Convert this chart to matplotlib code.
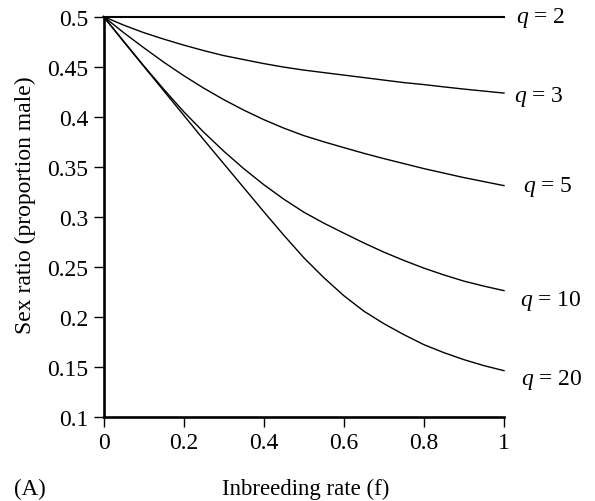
import matplotlib
matplotlib.use('Agg')
import matplotlib.pyplot as plt

plt.rcParams['font.family'] = ['Liberation Serif', 'DejaVu Serif']
plt.rcParams['mathtext.fontset'] = 'custom'
plt.rcParams['mathtext.it'] = 'Liberation Serif:italic'
plt.rcParams['mathtext.rm'] = 'Liberation Serif'

# values
f = [0.0, 0.05, 0.1, 0.15, 0.2, 0.25, 0.3, 0.35, 0.4, 0.45, 0.5,
     0.55, 0.6, 0.65, 0.7, 0.75, 0.8, 0.85, 0.9, 0.95, 1.0]
q2 = [0.5] * 21
q3 = [0.5, 0.4915, 0.484, 0.4775, 0.4715, 0.466, 0.461, 0.457, 0.453, 0.4495, 0.4465,
      0.444, 0.4415, 0.439, 0.4365, 0.434, 0.432, 0.4297, 0.4275, 0.4255, 0.4235]
q5 = [0.5, 0.484, 0.469, 0.4545, 0.441, 0.4285, 0.417, 0.4065, 0.397, 0.3885, 0.381,
      0.3748, 0.369, 0.3633, 0.358, 0.353, 0.348, 0.3435, 0.339, 0.335, 0.331]
q10 = [0.5, 0.4755, 0.451, 0.4275, 0.405, 0.3845, 0.3655, 0.348, 0.332, 0.3175, 0.3045,
       0.2935, 0.2835, 0.2737, 0.2645, 0.2562, 0.2485, 0.2417, 0.2355, 0.2305, 0.226]
q20 = [0.5, 0.475, 0.4505, 0.426, 0.4015, 0.377, 0.353, 0.329, 0.305, 0.2815, 0.259,
       0.239, 0.221, 0.2055, 0.193, 0.182, 0.172, 0.164, 0.157, 0.151, 0.146]

curve_labels = ['2', '3', '5', '10', '20']
label_pos = [(1.03, 0.5), (1.026, 0.4205), (1.047, 0.3305), (1.04, 0.2165), (1.042, 0.1375)]

xticks = [0, 0.2, 0.4, 0.6, 0.8, 1]
xtick_labels = ['0', '0.2', '0.4', '0.6', '0.8', '1']
yticks = [0.1, 0.15, 0.2, 0.25, 0.3, 0.35, 0.4, 0.45, 0.5]
ytick_labels = ['0.1', '0.15', '0.2', '0.25', '0.3', '0.35', '0.4', '0.45', '0.5']

fig = plt.figure(figsize=(5.95, 5.02), dpi=100)
ax = fig.add_axes([0.174, 0.168, 0.673, 0.797])

ax.plot(f, q2, color='black', lw=1.5, clip_on=False)
for ys in [q3, q5, q10, q20]:
    ax.plot(f, ys, color='black', lw=1.0, clip_on=False)

for lab, (lx, ly) in zip(curve_labels, label_pos):
    ax.text(lx, ly, '$q$ = ' + lab, fontsize=17, ha='left', va='center',
            clip_on=False)

ax.set_xlim(0, 1)
ax.set_ylim(0.1, 0.5)
ax.set_xticks(xticks)
ax.set_xticklabels(xtick_labels)
ax.set_yticks(yticks)
ax.set_yticklabels(ytick_labels)
ax.tick_params(direction='out', length=7, width=1.0, labelsize=17, pad=4)

ax.spines['top'].set_visible(False)
ax.spines['right'].set_visible(False)
ax.spines['left'].set_linewidth(1.9)
ax.spines['bottom'].set_linewidth(1.9)

fig.text(0.042, 0.592, 'Sex ratio (proportion male)', rotation=90,
         fontsize=17, ha='center', va='center')
fig.text(0.513, 0.025, 'Inbreeding rate (f)', fontsize=16.5, ha='center', va='center')
fig.text(0.024, 0.025, '(A)', fontsize=16.5, ha='left', va='center')

fig.savefig('out.png', dpi=100)
